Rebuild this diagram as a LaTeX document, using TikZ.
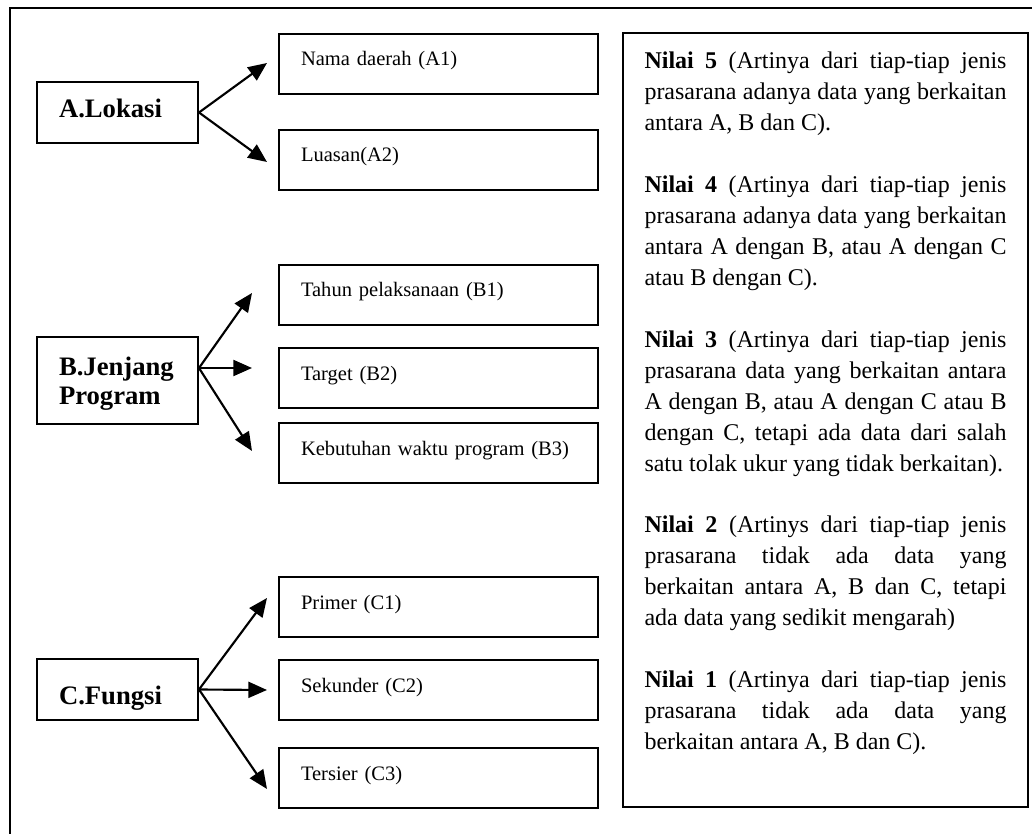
\documentclass[tikz,border=0pt]{standalone}
\usepackage{fontspec}
\setmainfont{Liberation Serif}
\usetikzlibrary{arrows.meta,calc}
\begin{document}
\begin{tikzpicture}[x=0.75pt,y=-0.75pt,
  lbl/.style={draw,line width=1.5pt,anchor=north west,inner xsep=16.5pt,inner ysep=0pt,
    text width=87.75pt,align=left,font=\fontsize{20pt}{21.75pt}\selectfont\bfseries},
  sub/.style={draw,line width=1.5pt,anchor=north west,inner xsep=16.5pt,inner ysep=0pt,
    text width=206.25pt,align=left,text height=24pt,text depth=21pt,
    font=\fontsize{15.4pt}{19pt}\selectfont},
  legendbox/.style={draw,line width=1.5pt,anchor=north west,inner xsep=0pt,inner ysep=0pt,
    minimum width=303.75pt,text height=27pt,text depth=553.5pt},
  arr/.style={line width=1.6pt,-{Triangle[length=14pt,width=12pt]}}]

\useasboundingbox (0,0) rectangle (1032,834);
\begin{scope}
\clip (0,0) rectangle (1032,834);
\draw[line width=1.7pt] (10,850) -- (10,8) -- (1050,8);
\end{scope}

% main categories
\node[lbl,text height=27pt,text depth=18.75pt] (A) at (36,81) {A.Lokasi};
\node[lbl,text height=28.5pt,text depth=36.75pt] (B) at (36,336) {B.Jenjang\\Program};
\node[lbl,text height=33.75pt,text depth=12pt] (C) at (36,658) {C.Fungsi};

% sub items
\node[sub] (A1) at (278,33)  {Nama daerah (A1)};
\node[sub] (A2) at (278,129) {Luasan(A2)};
\node[sub] (B1) at (278,264) {Tahun pelaksanaan (B1)};
\node[sub] (B2) at (278,347) {Target (B2)};
\node[sub] (B3) at (278,422) {Kebutuhan waktu program (B3)};
\node[sub] (C1) at (278,576) {Primer (C1)};
\node[sub] (C2) at (278,659) {Sekunder (C2)};
\node[sub] (C3) at (278,747) {Tersier (C3)};

% arrow ends
\coordinate (tA1) at ($(A1.west)+(-11,-1)$);
\coordinate (tA2) at ($(A2.west)+(-11,2)$);
\coordinate (oB)  at ($(B.east)+(0,-12.5)$);
\coordinate (tB1) at ($(B1.west)+(-26,-2)$);
\coordinate (tB2) at ($(B2.west)+(-26,-10)$);
\coordinate (tB3) at ($(B3.west)+(-26,-2)$);
\coordinate (tC1) at ($(C1.west)+(-11,-9)$);
\coordinate (tC2) at ($(C2.west)+(-11,0)$);
\coordinate (tC3) at ($(C3.west)+(-11,11)$);

\draw[arr] (A.east) -- (tA1);
\draw[arr] (A.east) -- (tA2);
\draw[arr] (oB) -- (tB1);
\draw[arr] (oB) -- (tB2);
\draw[arr] (oB) -- (tB3);
\draw[arr] (C.east) -- (tC1);
\draw[arr] (C.east) -- (tC2);
\draw[arr] (C.east) -- (tC3);

% legend
\node[legendbox] (N) at (622,32) {\begin{minipage}[t]{271.5pt}%
\fontsize{18pt}{23.2pt}\selectfont
\setlength{\parskip}{23.2pt}\setlength{\parindent}{0pt}%
\hyphenpenalty=10000 \exhyphenpenalty=10000 \tolerance=10000
\textbf{Nilai 5} (Artinya dari tiap-tiap jenis\linebreak prasarana adanya data yang berkaitan\linebreak antara A, B dan C).\par
\textbf{Nilai 4} (Artinya dari tiap-tiap jenis\linebreak prasarana adanya data yang berkaitan\linebreak antara A dengan B, atau A dengan C\linebreak atau B dengan C).\par
\textbf{Nilai 3} (Artinya dari tiap-tiap jenis\linebreak prasarana data yang berkaitan antara\linebreak A dengan B, atau A dengan C atau B\linebreak dengan C, tetapi ada data dari salah\linebreak satu tolak ukur yang tidak berkaitan).\par
\textbf{Nilai 2} (Artinys dari tiap-tiap jenis\linebreak prasarana tidak ada data yang\linebreak berkaitan antara A, B dan C, tetapi\linebreak ada data yang sedikit mengarah)\par
\textbf{Nilai 1} (Artinya dari tiap-tiap jenis\linebreak prasarana tidak ada data yang\linebreak berkaitan antara A, B dan C).%
\end{minipage}};
\end{tikzpicture}
\end{document}
